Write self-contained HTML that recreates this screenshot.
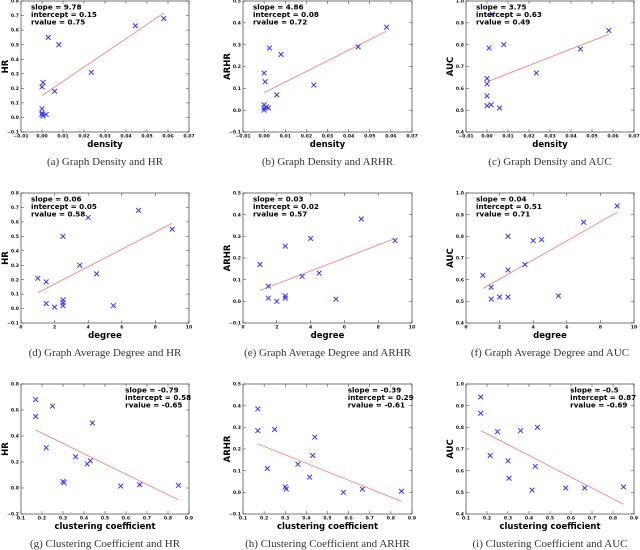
<!DOCTYPE html>
<html><head><meta charset="utf-8"><style>
html,body{margin:0;padding:0;background:#fff;}
svg{display:block;}
.tk{font-family:"DejaVu Sans","Liberation Sans",sans-serif;font-size:4.6px;font-weight:bold;fill:#111;}
.ann{font-family:"DejaVu Sans","Liberation Sans",sans-serif;font-size:7.2px;font-weight:bold;fill:#000;}
.xl{font-family:"DejaVu Sans","Liberation Sans",sans-serif;font-size:8.5px;font-weight:bold;fill:#000;}
.cap{font-family:"Liberation Serif",serif;font-size:11px;fill:#333;}
</style></head><body>
<svg id="chart" width="640" height="550" viewBox="0 0 640 550" xmlns="http://www.w3.org/2000/svg"></svg>
<script>
// ---- data arrays ----
const aX=[0,0.0005,0,0,0,0.0005,0.002,0.003,0.008,0.006,0.0235,0.0445,0.058];
const aY=[0.21,0.24,0.06,0.03,0.02,0.01,0.02,0.55,0.50,0.18,0.31,0.63,0.68];
const bX=[0,0.0005,0.0025,0.008,0.006,0,0,0.001,0.002,0,0.0235,0.0445,0.058];
const bY=[0.17,0.13,0.285,0.255,0.07,0.025,0.01,0.015,0.01,0.0,0.115,0.29,0.38];
const cX=[0.0025,0.001,0.008,0,0,0,0,0.002,0.006,0.0235,0.0445,0.058];
const cY=[0.94,0.785,0.80,0.645,0.62,0.565,0.52,0.525,0.51,0.67,0.78,0.865];
const dX=[7,4,9,2.5,3.5,4.5,1,1.5,2.5,2.5,1.5,5.5,2.5,2];
const dY=[0.68,0.63,0.55,0.50,0.30,0.24,0.21,0.185,0.06,0.04,0.035,0.02,0.02,0.01];
const eX=[1,1.5,1.5,2,2.5,2.5,2.5,3.5,4,4.5,5.5,7,9];
const eY=[0.17,0.07,0.015,0.0,0.255,0.025,0.015,0.115,0.29,0.13,0.01,0.38,0.28];
const fX=[1,1.5,1.5,2,2.5,2.5,2.5,3.5,4,4.5,5.5,7,9];
const fY=[0.62,0.565,0.51,0.52,0.80,0.645,0.52,0.67,0.78,0.785,0.525,0.865,0.94];
const gX=[0.17,0.25,0.17,0.44,0.22,0.36,0.43,0.415,0.30,0.305,0.575,0.665,0.85];
const gY=[0.68,0.63,0.55,0.50,0.31,0.24,0.21,0.185,0.05,0.04,0.015,0.025,0.02];
const hX=[0.17,0.17,0.25,0.215,0.30,0.305,0.36,0.415,0.43,0.44,0.575,0.665,0.85];
const hY=[0.385,0.285,0.29,0.11,0.025,0.015,0.13,0.07,0.17,0.255,0.0,0.015,0.005];
const iX=[0.17,0.17,0.25,0.215,0.30,0.305,0.36,0.415,0.43,0.44,0.575,0.665,0.85];
const iY=[0.94,0.865,0.78,0.67,0.645,0.565,0.785,0.51,0.62,0.80,0.52,0.52,0.525];
const fitSlope=[9.78,4.86,3.75,0.06,0.03,0.044,-0.79,-0.39,-0.5];
const fitIntercept=[0.15,0.08,0.63,0.05,0.02,0.515,0.58,0.29,0.87];
const fitStats=[["9.78","0.15","0.75"],["4.86","0.08","0.72"],["3.75","0.63","0.49"],["0.06","0.05","0.58"],["0.03","0.02","0.57"],["0.04","0.51","0.71"],["-0.79","0.58","-0.65"],["-0.39","0.29","-0.61"],["-0.5","0.87","-0.69"]];
const xTicksDensity=[-0.01,0,0.01,0.02,0.03,0.04,0.05,0.06,0.07];
const xTicksDegree=[0,2,4,6,8,10];
const xTicksClust=[0.1,0.2,0.3,0.4,0.5,0.6,0.7,0.8,0.9];
const yTicksHR=[-0.1,0,0.1,0.2,0.3,0.4,0.5,0.6,0.7,0.8];
const yTicksHR2=[-0.2,0,0.2,0.4,0.6,0.8];
const yTicksARHR=[-0.1,0,0.1,0.2,0.3,0.4,0.5];
const yTicksAUC=[0.4,0.5,0.6,0.7,0.8,0.9,1.0];
const captions=["(a) Graph Density and HR","(b) Graph Density and ARHR","(c) Graph Density and AUC","(d) Graph Average Degree and HR","(e) Graph Average Degree and ARHR","(f) Graph Average Degree and AUC","(g) Clustering Coefficient and HR","(h) Clustering Coefficient and ARHR","(i) Clustering Coefficient and AUC"];

const NS="http://www.w3.org/2000/svg";
const svg=document.getElementById('chart');
function mk(tag,attrs,parent){const e=document.createElementNS(NS,tag);for(const k in attrs)e.setAttribute(k,attrs[k]);(parent||svg).appendChild(e);return e;}

const colL=[21,243,466], colR=[189,412,634];
const rowT=[1,193,384], rowB=[132,323,514];
const rows=[
 {xs:[aX,bX,cX],ys:[aY,bY,cY],xt:xTicksDensity,xd:2,xlab:"density",fx:[0,0.058],ann:"left"},
 {xs:[dX,eX,fX],ys:[dY,eY,fY],xt:xTicksDegree,xd:0,xlab:"degree",fx:[1,9],ann:"left"},
 {xs:[gX,hX,iX],ys:[gY,hY,iY],xt:xTicksClust,xd:1,xlab:"clustering coefficient",fx:[0.17,0.85],ann:"right"}];
const ylabs=["HR","ARHR","AUC"];

rows.forEach((row,r)=>{
 const yts=[r===2?yTicksHR2:yTicksHR,yTicksARHR,yTicksAUC];
 for(let c=0;c<3;c++){
  const k=r*3+c;
  const L=colL[c],R=colR[c],T=rowT[r],B=rowB[r];
  const xt=row.xt, yt=yts[c];
  const x0=xt[0],x1=xt[xt.length-1],y0=yt[0],y1=yt[yt.length-1];
  const X=v=>L+(v-x0)/(x1-x0)*(R-L);
  const Y=v=>B-(v-y0)/(y1-y0)*(B-T);
  const g=mk('g',{});
  
  
  const box=mk('rect',{x:L,y:T,width:R-L,height:B-T,fill:'none',stroke:'#555','stroke-width':0.8},g);
  
  
  xt.forEach(v=>{
   const x=X(v);
   mk('line',{x1:x,x2:x,y1:B,y2:B-3,stroke:'#333','stroke-width':0.5},g);
   mk('line',{x1:x,x2:x,y1:T,y2:T+3,stroke:'#333','stroke-width':0.5},g);
   const t=mk('text',{x:x,y:B+5.5,'text-anchor':'middle',class:'tk'},g);
   t.textContent=(v<0?'\u2212':'')+Math.abs(v).toFixed(row.xd);
   
   
  });
  yt.forEach(v=>{
   const y=Y(v);
   mk('line',{x1:L,x2:L+3,y1:y,y2:y,stroke:'#333','stroke-width':0.5},g);
   mk('line',{x1:R,x2:R-3,y1:y,y2:y,stroke:'#333','stroke-width':0.5},g);
   const t=mk('text',{x:L-2,y:y+1.6,'text-anchor':'end',class:'tk'},g);
   t.textContent=(v<0?'\u2212':'')+Math.abs(v).toFixed(1);
   
   
  });
  const fl=mk('line',{x1:X(row.fx[0]),y1:Y(fitSlope[k]*row.fx[0]+fitIntercept[k]),x2:X(row.fx[1]),y2:Y(fitSlope[k]*row.fx[1]+fitIntercept[k]),stroke:'#ff8080','stroke-width':0.9},g);
  
  
  const xs=row.xs[c],ys=row.ys[c];
  xs.forEach((xv,i)=>{
   const px=X(xv),py=Y(ys[i]),s=2.4;
   const p=mk('path',{d:`M${px-s},${py-s}L${px+s},${py+s}M${px-s},${py+s}L${px+s},${py-s}`,stroke:'#3333ff','stroke-width':1,fill:'none'},g);
   
   
  });
  const st=fitStats[k];
  const lines=['slope = '+st[0],'intercept = '+st[1],'rvalue = '+st[2]];
  const ax=row.ann==='left'?L+10:L+(R-L)*0.62;
  lines.forEach((s,j)=>{
   const t=mk('text',{x:ax,y:T+8.5+j*7.6,class:'ann'},g);
   t.textContent=s;
   
   
  });
  const xl=mk('text',{x:(L+R)/2,y:B+15,'text-anchor':'middle',class:'xl'},g);
  xl.textContent=row.xlab;
  
  
  const yl=mk('text',{x:0,y:0,'text-anchor':'middle',class:'xl',transform:`translate(${L-13},${(T+B)/2}) rotate(-90)`},g);
  yl.textContent=ylabs[c];
  
  
  const cp=mk('text',{x:(L+R)/2,y:B+33,'text-anchor':'middle',class:'cap'},g);
  cp.textContent=captions[k];
  
  
 }
});
</script>
</body></html>
